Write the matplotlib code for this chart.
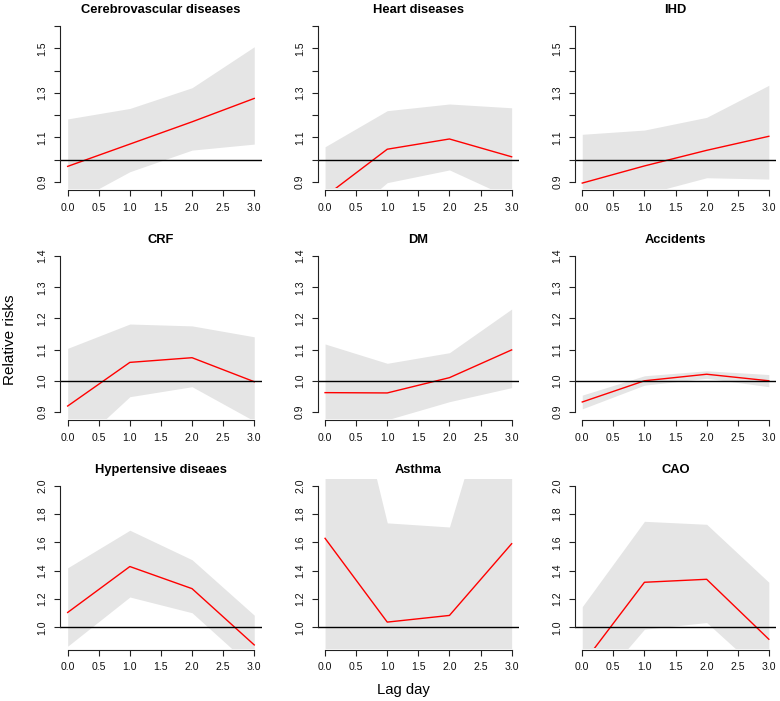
import numpy as np
import matplotlib
matplotlib.use('Agg')
import matplotlib.pyplot as plt

plt.rcParams['font.family'] = ['Liberation Sans', 'DejaVu Sans']

lags = [0, 1, 2, 3]
titles = ['Cerebrovascular diseases', 'Heart diseases', 'IHD',
          'CRF', 'DM', 'Accidents',
          'Hypertensive diseaes', 'Asthma', 'CAO']

# relative risk estimates and 95% limits, lag 0..3
rr = [[0.97, 1.07, 1.17, 1.275],
      [0.835, 1.047, 1.093, 1.013],
      [0.895, 0.972, 1.042, 1.105],
      [0.919, 1.059, 1.074, 0.997],
      [0.962, 0.961, 1.010, 1.099],
      [0.932, 1.000, 1.021, 1.000],
      [1.106, 1.430, 1.274, 0.877],
      [1.629, 1.038, 1.085, 1.591],
      [0.74, 1.319, 1.340, 0.917]]
upper = [[1.183, 1.23, 1.323, 1.507],
         [1.058, 1.22, 1.25, 1.233],
         [1.114, 1.133, 1.19, 1.334],
         [1.104, 1.182, 1.176, 1.141],
         [1.118, 1.056, 1.090, 1.230],
         [0.954, 1.016, 1.032, 1.020],
         [1.421, 1.686, 1.478, 1.087],
         [3.54, 1.738, 1.709, 3.17],
         [1.147, 1.749, 1.728, 1.319]]
lower = [[0.795, 0.946, 1.043, 1.07],
         [0.66, 0.897, 0.954, 0.826],
         [0.719, 0.845, 0.919, 0.913],
         [0.765, 0.949, 0.981, 0.871],
         [0.828, 0.875, 0.933, 0.978],
         [0.910, 0.986, 1.008, 0.981],
         [0.868, 1.215, 1.104, 0.708],
         [0.75, 0.62, 0.69, 0.80],
         [0.477, 0.988, 1.035, 0.637]]

row_ylim = [(0.9, 1.6), (0.9, 1.4), (0.9, 2.0)]
row_ticks = [[0.9, 1.0, 1.1, 1.2, 1.3, 1.4, 1.5, 1.6],
             [0.9, 1.0, 1.1, 1.2, 1.3, 1.4],
             [1.0, 1.2, 1.4, 1.6, 1.8, 2.0]]
row_labels = [['0.9', '', '1.1', '', '1.3', '', '1.5', ''],
              ['0.9', '1.0', '1.1', '1.2', '1.3', '1.4'],
              ['1.0', '1.2', '1.4', '1.6', '1.8', '2.0']]
xticks = [0, 0.5, 1, 1.5, 2, 2.5, 3]

W, H = 780, 701
fig = plt.figure(figsize=(W / 100, H / 100), dpi=100)

lefts = [60.2, 317.6, 574.8]
tops = [19.8, 249.8, 479.5]
pw, ph = 201.5, 168.4

for i in range(9):
    r, c = divmod(i, 3)
    ax = fig.add_axes([lefts[c] / W, 1 - (tops[r] + ph) / H, pw / W, ph / H])
    lo, hi = row_ylim[r]
    ext = (hi - lo) * 0.04
    ax.set_ylim(lo - ext, hi + ext)
    ax.set_xlim(-0.12, 3.12)

    ax.fill_between(lags, lower[i], upper[i], color='#e5e5e5', lw=0)
    ax.plot(lags, rr[i], color='red', lw=1.0)
    ax.axhline(1.0, color='black', lw=1.0)

    ax.spines['top'].set_visible(False)
    ax.spines['right'].set_visible(False)
    ax.spines['left'].set_bounds(row_ticks[r][0], row_ticks[r][-1])
    ax.spines['bottom'].set_bounds(0, 3)
    ax.spines['bottom'].set_position(('outward', 1.5))
    for s in ('left', 'bottom'):
        ax.spines[s].set_linewidth(0.8)
        ax.spines[s].set_color('#222222')

    ax.set_yticks(row_ticks[r])
    ax.set_yticklabels(row_labels[r])
    ax.set_xticks(xticks)
    ax.set_xticklabels(['%.1f' % v for v in xticks])
    ax.tick_params(direction='out', length=4.5, width=0.8, color='#222222',
                   labelsize=7.6, pad=4.5, labelcolor='#111111')
    ax.tick_params(axis='y', labelrotation=90)
    for lab in ax.get_yticklabels():
        lab.set_va('center')
    ax.set_title(titles[i], fontsize=9.3, fontweight='bold', pad=5)

fig.text(403 / W, 1 - 690 / H, 'Lag day', ha='center', va='center', fontsize=10.7)
fig.text(10 / W, 1 - 340 / H, 'Relative risks', ha='center', va='center',
         rotation=90, fontsize=11)

fig.savefig('out.png', dpi=100)
